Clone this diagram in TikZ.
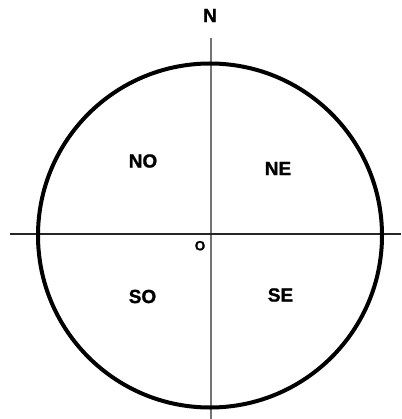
\documentclass[tikz,border=0pt]{standalone}
\usepackage{fontspec}
\setmainfont{Liberation Sans}[BoldFeatures={FakeBold=1.2}]
\begin{document}
\begin{tikzpicture}[x=1pt,y=-1pt,
  lbl/.style={font=\bfseries\fontsize{19}{21}\selectfont, inner sep=0pt, anchor=center},
  small/.style={font=\bfseries\fontsize{13.5}{15}\selectfont, inner sep=0pt, anchor=center}]
\useasboundingbox[fill=white] (0,0) rectangle (401,419);
\coordinate (vtop) at (211,38);
\coordinate (vbot) at (211,419);
\coordinate (hl) at (10,234);
\coordinate (hr) at (401,234);
\draw[line width=1.4pt, black!55] (vtop) -- (vbot);
\draw[line width=1.1pt, black!85] (hl) -- (hr);
\node[circle, draw, line width=4pt, minimum size=344pt, inner sep=0pt] (c) at (210,235.5) {};
\node[lbl] (n) at (210,15.5) {N};
\node[lbl] (no) at (143,161) {NO};
\node[lbl] (ne) at (278,168.5) {NE};
\node[lbl] (so) at (142.5,296.5) {SO};
\node[lbl] (se) at (280.5,295) {SE};
\node[small] (o) at (200,245.7) {O};
\end{tikzpicture}
\end{document}
